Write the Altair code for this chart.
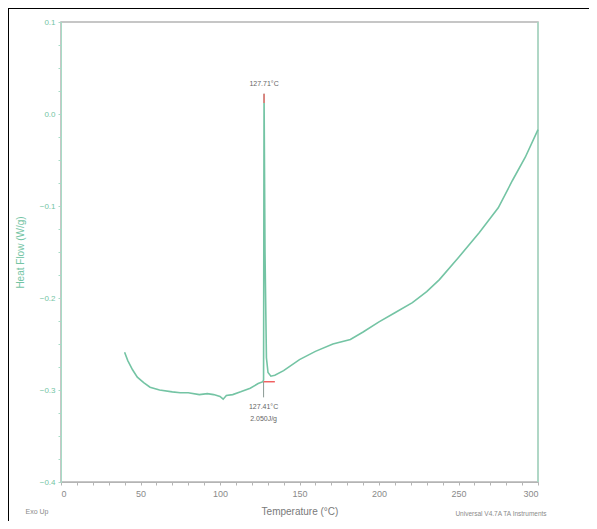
import altair as alt
import pandas as pd

# Temperature (°C) and heat flow (W/g)
temps = [40, 42, 45, 48, 52, 56, 62, 70, 75, 80, 87, 92, 96, 100, 102, 104, 108, 113,
         119, 124, 127.0, 127.4, 127.71, 128.3, 129.2, 130.2, 132, 134.5, 140, 150,
         160, 171, 182, 190, 200, 210, 221, 230, 238, 250, 263, 275, 284, 292, 300]
heat = [-0.259, -0.268, -0.278, -0.286, -0.292, -0.297, -0.300, -0.302, -0.303, -0.303,
        -0.305, -0.304, -0.305, -0.307, -0.310, -0.306, -0.305, -0.302, -0.298, -0.293,
        -0.291, -0.289, 0.022, -0.15, -0.265, -0.281, -0.285, -0.284, -0.279, -0.267,
        -0.258, -0.250, -0.245, -0.237, -0.226, -0.216, -0.205, -0.193, -0.180, -0.156,
        -0.129, -0.102, -0.072, -0.047, -0.017]

x_ticks = [0, 10, 20, 30, 40, 50, 60, 70, 80, 90, 100, 110, 120, 130, 140, 150, 160,
           170, 180, 190, 200, 210, 220, 230, 240, 250, 260, 270, 280, 290, 300]
y_ticks = [-0.4, -0.375, -0.35, -0.325, -0.3, -0.275, -0.25, -0.225, -0.2, -0.175,
           -0.15, -0.125, -0.1, -0.075, -0.05, -0.025, 0.0, 0.025, 0.05, 0.075, 0.1]

peak_T = [127.71]
peak_top = [0.022]
onset_T = [127.41]
onset_HF = [-0.291]
integ_end_T = [134.5]
peak_label = ["127.71°C"]
onset_labels = ["127.41°C", "2.050J/g"]

GREEN = "#74c4a4"
GRAY = "#b4b4b4"
FONT = "Liberation Sans"

df = pd.DataFrame({"T": temps, "HF": heat})

xs = alt.Scale(domain=[0, 300], nice=False, zero=False)
ys = alt.Scale(domain=[-0.4, 0.1], nice=False, zero=False)

x_axis = alt.Axis(values=x_ticks, labelExpr="datum.value % 50 == 0 ? datum.label : ''",
                  labelOverlap=False, grid=False, domainColor=GRAY, tickColor=GRAY, tickSize=3,
                  labelColor="#8a8a8a", labelFontSize=9, labelFont=FONT, labelPadding=4,
                  title="Temperature (°C)", titleColor="#7a7a7a", titleFontSize=10,
                  titleFont=FONT, titleFontWeight="normal", titlePadding=8)
y_axis = alt.Axis(values=y_ticks,
                  labelExpr="abs(datum.value*10 - round(datum.value*10)) < 0.01 ? format(datum.value, '.1f') : ''",
                  labelOverlap=False, grid=False, domainColor="#a8dcc6", tickColor="#a8dcc6", tickSize=3,
                  labelColor=GREEN, labelFontSize=8, labelFont=FONT, labelPadding=3,
                  title="Heat Flow (W/g)", titleColor=GREEN, titleFontSize=10,
                  titleFont=FONT, titleFontWeight="normal", titlePadding=14)


def X(f="T:Q"):
    return alt.X(f, scale=xs, axis=x_axis)


def Y(f="HF:Q"):
    return alt.Y(f, scale=ys, axis=y_axis)


curve = alt.Chart(df).mark_line(color=GREEN, strokeWidth=1.6).encode(x=X(), y=Y())

right_edge = alt.Chart(pd.DataFrame({"T": [300]})).mark_rule(
    color="#a8dcc6", strokeWidth=1.5).encode(x=X())

pk = pd.DataFrame({"T": peak_T, "HF": peak_top, "lab": peak_label})
peak_mark = alt.Chart(pk).mark_rule(color="#f07070", strokeWidth=1.5).encode(
    x=X(), y=Y(), y2=alt.datum(0.012))
peak_text = alt.Chart(pk).mark_text(dy=-10, fontSize=7, font=FONT, color="#666").encode(
    x=X(), y=Y(), text="lab:N")

on = pd.DataFrame({"T": onset_T, "HF": onset_HF, "T2": integ_end_T})
drop = alt.Chart(on).mark_rule(color="#8a9a94", strokeWidth=1).encode(
    x=X(), y=Y(), y2=alt.datum(-0.308))
integ = alt.Chart(on).mark_rule(color="#f06060", strokeWidth=1.5).encode(
    x=X(), x2="T2:Q", y=Y())
onl = pd.DataFrame({"T": onset_T * 2, "HF": onset_HF * 2, "lab": onset_labels, "k": [0, 1]})
on_text1 = alt.Chart(onl[onl.k == 0]).mark_text(fontSize=7, font=FONT, color="#666", dy=25).encode(
    x=X(), y=Y(), text="lab:N")
on_text2 = alt.Chart(onl[onl.k == 1]).mark_text(fontSize=7, font=FONT, color="#666", dy=37).encode(
    x=X(), y=Y(), text="lab:N")

exo = alt.Chart(pd.DataFrame({"t": ["Exo Up"]})).mark_text(
    fontSize=7, font=FONT, color="#8a8a8a").encode(
    x=alt.value(-24), y=alt.value(490), text="t:N")
inst = alt.Chart(pd.DataFrame({"t": ["Universal V4.7A TA Instruments"]})).mark_text(
    fontSize=6.5, font=FONT, color="#8a8a8a").encode(
    x=alt.value(440), y=alt.value(492), text="t:N")

frame_left = alt.Chart(pd.DataFrame({"a": [0]})).mark_rule(color="black", strokeWidth=2).encode(
    x=alt.value(-53), y=alt.value(-15), y2=alt.value(520))
frame_top = alt.Chart(pd.DataFrame({"a": [0]})).mark_rule(color="black", strokeWidth=2).encode(
    x=alt.value(-54), x2=alt.value(560), y=alt.value(-14))

chart = alt.layer(
    right_edge, curve, drop, integ, peak_mark, peak_text, on_text1, on_text2,
    exo, inst, frame_left, frame_top
).properties(
    width=477, height=460,
    autosize=alt.AutoSizeParams(type="none"),
    padding={"left": 53, "top": 14, "right": 51, "bottom": 39},
).configure_view(stroke=GRAY, strokeWidth=1.5)

chart.save("out.html", embed_options={"renderer": "svg", "actions": False})
